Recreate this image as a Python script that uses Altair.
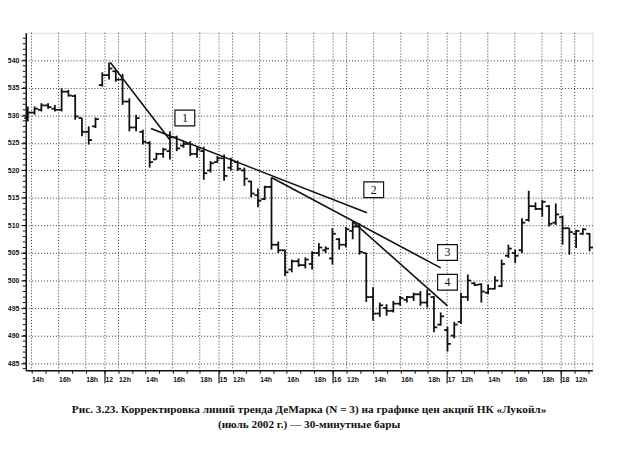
import altair as alt
import pandas as pd

# ---- OHLC data (30-minute bars, index = bar number) ----
opens  = [529.5,530.5,531.0,531.8,531.2,531.0,534.3,533.5,529.5,527.0,528.0,535.5,537.3,538.0,536.5,532.5,527.8,527.0,525.0,522.0,
          523.0,523.5,526.0,524.5,524.8,523.0,523.5,520.0,521.5,522.2,520.5,521.5,520.0,518.0,515.5,514.8,517.0,506.5,505.5,502.0,
          503.5,502.8,503.0,505.0,505.5,504.0,507.5,506.5,509.0,509.8,505.0,497.0,494.0,495.0,494.5,495.8,496.5,497.0,497.5,496.0,
          497.0,492.0,491.0,490.0,492.5,497.0,499.5,499.3,497.8,498.5,499.0,504.5,505.0,505.5,511.0,513.5,513.0,513.5,510.5,511.5,
          509.5,508.5,508.5,508.5]
highs  = [531.6,531.6,532.2,532.2,531.9,534.9,534.6,533.8,529.5,528.0,529.6,537.8,539.6,538.2,537.5,533.1,530.1,527.4,525.3,523.2,
          524.1,527.1,526.3,525.3,525.3,524.4,524.3,521.7,522.6,522.9,522.3,521.8,520.5,518.1,516.7,517.2,518.7,507.1,505.6,503.8,
          504.0,504.2,505.3,506.8,506.2,509.5,507.7,509.7,510.7,510.4,505.0,498.8,496.0,495.7,496.3,497.2,497.2,497.8,498.1,498.4,
          497.2,494.2,491.6,492.5,497.8,501.1,499.7,499.5,499.3,500.8,503.8,506.5,505.6,511.3,516.3,514.2,514.6,513.7,514.0,511.8,
          509.5,509.2,509.5,508.6]
lows   = [528.9,530.1,530.7,531.2,530.7,530.7,533.4,529.2,526.2,524.7,527.7,535.2,536.5,536.1,531.9,527.1,527.1,524.7,520.5,522.0,
          522.3,522.0,523.5,524.1,522.6,522.3,518.3,519.6,521.4,518.1,520.0,519.9,517.2,515.1,513.3,514.6,505.6,505.0,500.8,501.5,
          502.5,502.2,502.0,504.4,505.0,502.9,505.6,506.0,507.5,504.7,496.1,492.7,493.4,493.6,494.2,495.4,496.0,496.3,495.4,495.1,
          490.6,491.8,487.1,489.5,492.1,496.3,499.0,496.0,497.5,498.4,498.8,504.1,503.2,505.0,510.7,512.8,511.6,509.8,510.1,506.5,
          504.7,505.9,508.3,505.3]
closes = [530.5,531.2,531.8,531.5,531.0,534.3,533.6,529.8,527.0,525.5,529.3,537.3,538.5,536.5,532.5,527.8,529.5,525.2,521.5,523.0,
          523.8,526.0,524.0,524.8,523.0,523.8,519.5,521.3,522.2,519.0,521.8,520.3,518.5,515.8,514.5,517.0,506.5,505.5,501.5,503.5,
          502.8,503.8,505.0,506.0,505.8,508.5,506.5,509.3,509.8,505.2,497.0,494.0,495.5,494.5,495.8,496.8,497.0,497.5,496.0,497.5,
          491.5,493.5,488.5,492.0,497.0,500.0,499.2,498.0,498.5,500.0,503.0,505.8,504.5,510.5,513.5,513.0,514.3,510.3,512.0,509.5,
          508.8,509.0,509.3,506.0]

# ---- time axis (bar-index positions) ----
tick_pos    = [0.55, 4.55, 8.55, 11.4, 13.4, 17.4, 21.4, 25.4, 28.25, 30.25, 34.25, 38.25, 42.25,
               45.1, 47.1, 51.1, 55.1, 59.1, 61.95, 63.95, 67.95, 71.95, 75.95, 78.8, 80.8]
tick_labels = ["14h", "16h", "18h", "12", "12h", "14h", "16h", "18h", "15", "12h", "14h", "16h", "18h",
               "16", "12h", "14h", "16h", "18h", "17", "12h", "14h", "16h", "18h", "18", "12h"]
minor_pos   = [2.55, 6.55, 15.4, 19.4, 23.4, 32.25, 36.25, 40.25, 49.1, 53.1, 57.1, 65.95, 69.95, 73.95, 82.8]
day_starts  = [11.4, 28.25, 45.1, 61.95, 78.8]

# ---- price axis ----
y_ticks = [485, 490, 495, 500, 505, 510, 515, 520, 525, 530, 535, 540]
y_minor = list(range(484, 545))

# ---- DeMark trend lines ----
line_x1 = [12.2, 18.2, 36.0, 48.0]
line_y1 = [539.6, 527.6, 518.7, 510.7]
line_x2 = [20.95, 50.1, 61.0, 62.0]
line_y2 = [525.6, 512.3, 502.3, 495.4]

# ---- numbered boxes ----
box_x = [23.2, 51.1, 62.0, 62.0]
box_y = [529.5, 516.5, 505.1, 499.7]
box_t = ["1", "2", "3", "4"]

W, H = 574, 342
xs = alt.Scale(domain=[-0.3, 83.4], nice=False, zero=False)
ys = alt.Scale(domain=[483.7, 545.0], nice=False, zero=False)
INK = "#111111"

bars = pd.DataFrame({"i": list(range(len(opens))), "o": opens, "h": highs, "l": lows, "c": closes})
lines = pd.DataFrame({"x1": line_x1, "y1": line_y1, "x2": line_x2, "y2": line_y2})
boxes = pd.DataFrame({"bx": box_x, "by": box_y, "t": box_t})
vgrid = pd.DataFrame({"g": tick_pos})
days = pd.DataFrame({"d": day_starts})
yminor = pd.DataFrame({"m": y_minor})

expr = "''"
for p, lab in reversed(list(zip(tick_pos, tick_labels))):
    expr = f"abs(datum.value - {p}) < 0.01 ? '{lab}' : ({expr})"

x_axis = alt.Axis(values=tick_pos + minor_pos, labelExpr=expr, grid=False, tickSize=3,
                  labelAlign="left", labelPadding=2, title=None, labelOverlap=False)
y_axis = alt.Axis(values=y_ticks, grid=True, gridDash=[1, 2], gridColor=INK, gridOpacity=0.85,
                  tickSize=5, labelPadding=2, title=None, format="d", labelOverlap=False)

base = alt.Chart(bars)
SW = 1.8

grid_v = alt.Chart(vgrid).mark_rule(strokeDash=[1, 2], color=INK, opacity=0.85, strokeWidth=1).encode(
    x=alt.X("g:Q", scale=xs, axis=x_axis))

hl = base.mark_rule(color=INK, strokeWidth=SW).encode(
    x=alt.X("i:Q", scale=xs, axis=x_axis),
    y=alt.Y("l:Q", scale=ys, axis=y_axis),
    y2="h:Q")
op = base.transform_calculate(xo="datum.i - 0.5").mark_rule(color=INK, strokeWidth=SW).encode(
    x=alt.X("xo:Q", scale=xs, axis=x_axis), x2="i:Q", y=alt.Y("o:Q", scale=ys, axis=y_axis))
cl = base.transform_calculate(xc="datum.i + 0.5").mark_rule(color=INK, strokeWidth=SW).encode(
    x=alt.X("i:Q", scale=xs, axis=x_axis), x2="xc:Q", y=alt.Y("c:Q", scale=ys, axis=y_axis))

trend = alt.Chart(lines).mark_rule(color=INK, strokeWidth=1.6).encode(
    x=alt.X("x1:Q", scale=xs, axis=x_axis), x2="x2:Q",
    y=alt.Y("y1:Q", scale=ys, axis=y_axis), y2="y2:Q")

day_sep = alt.Chart(days).mark_rule(color=INK, strokeWidth=1.2).encode(
    x=alt.X("d:Q", scale=xs, axis=x_axis), y=alt.value(H), y2=alt.value(H + 13))

ymin = alt.Chart(yminor).mark_rule(color=INK, strokeWidth=1).encode(
    y=alt.Y("m:Q", scale=ys, axis=y_axis), x=alt.value(0), x2=alt.value(-3))

box_rect = alt.Chart(boxes).transform_calculate(
    bx1="datum.bx - 1.46", bx2="datum.bx + 1.46", by1="datum.by - 1.43", by2="datum.by + 1.43"
).mark_rect(fill="white", stroke=INK, strokeWidth=1.2).encode(
    x=alt.X("bx1:Q", scale=xs, axis=x_axis), x2="bx2:Q",
    y=alt.Y("by1:Q", scale=ys, axis=y_axis), y2="by2:Q")
box_txt = alt.Chart(boxes).mark_text(font="Liberation Serif", fontSize=12, color=INK).encode(
    x=alt.X("bx:Q", scale=xs, axis=x_axis), y=alt.Y("by:Q", scale=ys, axis=y_axis), text="t:N")

title = alt.TitleParams(
    text=["Рис. 3.23. Корректировка линий тренда ДеМарка (N = 3) на графике цен акций НК «Лукойл»",
          "(июль 2002 г.) — 30-минутные бары"],
    orient="bottom", anchor="middle", font="Liberation Serif", fontSize=11.4, fontWeight="bold",
    color=INK, offset=21, lineHeight=15)

chart = alt.layer(grid_v, hl, op, cl, trend, day_sep, ymin, box_rect, box_txt).properties(
    width=W, height=H, title=title,
    autosize=alt.AutoSizeParams(type="none"),
    padding={"left": 18, "top": 22, "right": 27, "bottom": 100},
).configure_view(stroke=None).configure(background="white").configure_axis(
    labelOverlap=False, labelFontSize=7, labelFont="Liberation Sans", labelFontWeight="bold",
    labelColor=INK, tickColor=INK, domainColor=INK, domainWidth=1.5, labelBound=False, labelFlush=False)

chart.save("out.html", embed_options={"renderer": "svg", "actions": False})
